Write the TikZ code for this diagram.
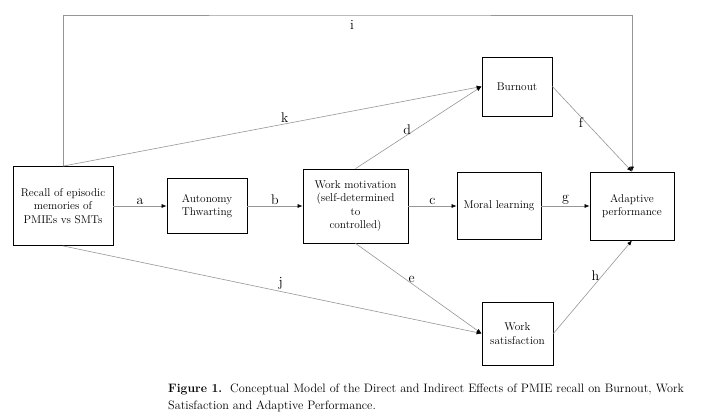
\documentclass[tikz,border=0pt]{standalone}
\usepackage{tikz}
\usetikzlibrary{shapes,arrows.meta,positioning}
\definecolor{linkgray}{RGB}{150,150,150}

\begin{document}
\begin{tikzpicture}[x=1pt, y=-1pt,
    box/.style={draw, line width=0.8pt, align=center, inner sep=2pt, font=\fontsize{11.3}{13.5}\selectfont},
    link/.style={draw=linkgray, line width=0.6pt, -{Latex[color=black, length=5pt, width=4pt]}},
    lbl/.style={font=\fontsize{14}{16}\selectfont, inner sep=1.5pt}]
        \useasboundingbox (0,0) rectangle (723,420);

        % Boxes
        \node[box, minimum width=100pt, minimum height=79pt] (rec) at (63,206) {Recall of episodic\\memories of\\PMIEs vs SMTs};
        \node[box, minimum width=80pt, minimum height=55pt] (aut) at (207,206) {Autonomy\\Thwarting};
        \node[box, minimum width=105pt, minimum height=74pt] (wm) at (355.5,206) {Work motivation\\(self-determined\\to\\controlled)};
        \node[box, minimum width=84pt, minimum height=67pt] (mor) at (499,206) {Moral learning};
        \node[box, minimum width=84pt, minimum height=68pt] (adp) at (632,206) {Adaptive\\performance};
        \node[box, minimum width=70pt, minimum height=59pt] (brn) at (517,86.5) {Burnout};
        \node[box, minimum width=71pt, minimum height=63pt] (wsf) at (517.5,333.5) {Work\\satisfaction};

        % Paths
        \draw[link] (rec.east) -- node[lbl, above] {a} (aut.west);
        \draw[link] (aut.east) -- node[lbl, above] {b} (wm.west);
        \draw[link] (wm.east) -- node[lbl, above] {c} (mor.west);
        \draw[link] (mor.east) -- node[lbl, above] {g} (adp.west);
        \draw[link] (wm.north) -- node[lbl, pos=0.47, left=2pt] {d} (brn.west);
        \draw[link] (wm.south) -- node[lbl, pos=0.4, right=1pt] {e} (wsf.west);
        \draw[link] (brn.east) -- node[lbl, pos=0.42, left=1pt] {f} (adp.north);
        \draw[link] (wsf.east) -- node[lbl, pos=0.62, left=1pt] {h} (adp.south);
        \draw[link] (rec.north) -- node[lbl, pos=0.53, above] {k} (brn.west);
        \draw[link] (rec.south) -- node[lbl, pos=0.52, above] {j} (wsf.west);

        % Direct path over the top
        \coordinate (top) at (352,15);
        \draw[link] (rec.north) |- (top) node[lbl, below=4pt] {i} -| (adp.north);

        % Caption
        \node[anchor=north west, align=left, inner sep=0pt, font=\fontsize{12.2}{16.5}\selectfont] (cap) at (168,384)
            {\textbf{Figure 1.}\ \ Conceptual Model of the Direct and Indirect Effects of PMIE recall on Burnout, Work\\Satisfaction and Adaptive Performance.};
\end{tikzpicture}
\end{document}
